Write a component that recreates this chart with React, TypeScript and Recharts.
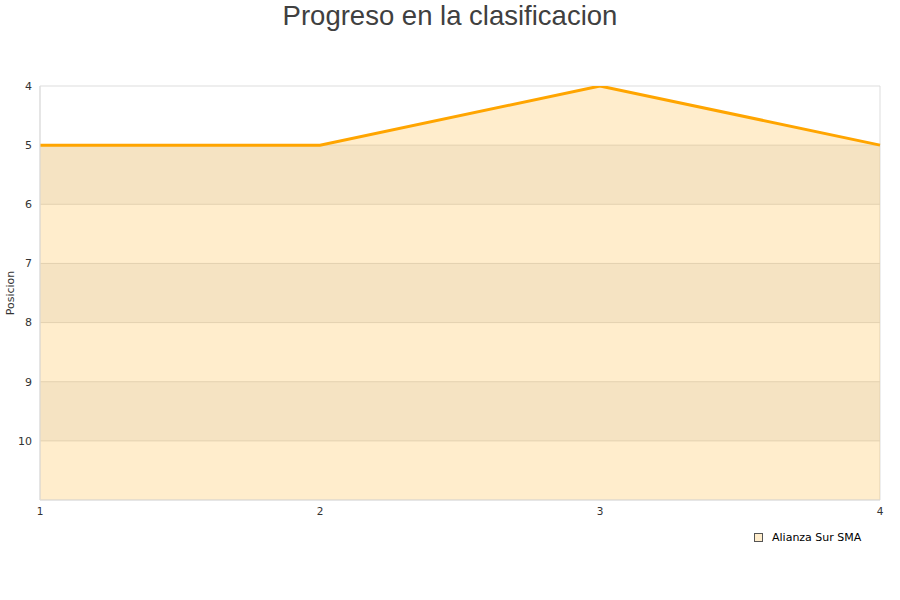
import { AreaChart, Area, XAxis, YAxis, CartesianGrid } from "recharts";

const jornadas = [1, 2, 3, 4];
const posiciones = [5, 5, 4, 5];
const yTicks = [4, 5, 6, 7, 8, 9, 10];
const serieNombre = "Alianza Sur SMA";

const data = jornadas.map((j, i) => ({ jornada: j, posicion: posiciones[i] }));

export default function App() {
  return (
    <div style={{ position: "absolute", top: 0, left: 0, width: 900, height: 600, background: "#fff" }}>
      <div
        style={{
          position: "absolute",
          top: 0,
          left: 0,
          width: 900,
          textAlign: "center",
          fontFamily: "'Liberation Sans', Arial, sans-serif",
          fontSize: 27.5,
          color: "#404040",
          lineHeight: "32px",
        }}
      >
        Progreso en la clasificacion
      </div>
      <AreaChart
        width={900}
        height={600}
        data={data}
        margin={{ top: 86, right: 20, bottom: 70, left: 0 }}
      >
        <CartesianGrid
          stroke="#dddddd"
          horizontalFill={["transparent", "#f3f3f3"]}
          verticalCoordinatesGenerator={({ offset }: any) => [offset.left, offset.left + offset.width]}
        />
        <XAxis
          dataKey="jornada"
          type="number"
          domain={[1, 4]}
          ticks={jornadas}
          axisLine={{ stroke: "#dddddd" }}
          tickLine={false}
          tick={{ fontSize: 10.5, fill: "#333", fontFamily: "'DejaVu Sans', sans-serif" }}
        />
        <YAxis
          reversed
          domain={[4, 11]}
          ticks={yTicks}
          width={40}
          allowDataOverflow
          axisLine={{ stroke: "#dddddd" }}
          tickLine={false}
          tick={{ fontSize: 11, fill: "#333", fontFamily: "'DejaVu Sans', sans-serif" }}
          label={{
            content: ({ viewBox }: any) => (
              <text
                x={14}
                y={viewBox.y + viewBox.height / 2}
                transform={`rotate(-90 14 ${viewBox.y + viewBox.height / 2})`}
                textAnchor="middle"
                fontSize={11}
                fill="#333"
                fontFamily="'DejaVu Sans', sans-serif"
              >
                Posicion
              </text>
            ),
          }}
        />
        <Area
          type="linear"
          dataKey="posicion"
          name={serieNombre}
          baseValue={11}
          stroke="#ffa500"
          strokeWidth={3}
          fill="#ffa500"
          fillOpacity={0.2}
          dot={false}
          activeDot={false}
          isAnimationActive={false}
        />
      </AreaChart>
      <div
        style={{
          position: "absolute",
          left: 754,
          top: 531,
          display: "flex",
          alignItems: "center",
          fontFamily: "'DejaVu Sans', sans-serif",
          fontSize: 11,
          color: "#000",
        }}
      >
        <span
          style={{
            display: "inline-block",
            width: 7,
            height: 7,
            background: "#ffedcc",
            border: "1px solid #555",
            marginRight: 9,
          }}
        />
        {serieNombre}
      </div>
    </div>
  );
}
